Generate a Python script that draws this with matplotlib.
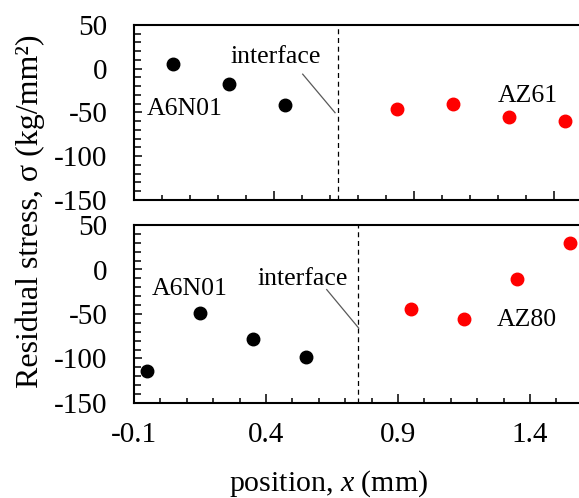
import matplotlib
matplotlib.use("Agg")
import matplotlib.pyplot as plt
from matplotlib.ticker import MultipleLocator, FixedLocator

plt.rcParams['font.family'] = ['Liberation Serif', 'DejaVu Serif']
plt.rcParams['mathtext.fontset'] = 'custom'
plt.rcParams['mathtext.rm'] = 'Liberation Serif'
plt.rcParams['mathtext.it'] = 'Liberation Serif:italic'

# ---- data (top panel: A6N01 / AZ61) ----
top_a6n01_x = [0.04, 0.24, 0.44]
top_a6n01_y = [5.7, -17.9, -41.1]
top_az61_x = [0.84, 1.04, 1.24, 1.44]
top_az61_y = [-46.5, -40.0, -54.8, -59.4]
top_interface = 0.63

# ---- data (bottom panel: A6N01 / AZ80) ----
bot_a6n01_x = [-0.05, 0.15, 0.35, 0.55]
bot_a6n01_y = [-114.4, -48.9, -77.6, -97.9]
bot_az80_x = [0.95, 1.15, 1.35, 1.55]
bot_az80_y = [-44.4, -55.3, -10.5, 29.4]
bot_interface = 0.75

x_ticks = [-0.1, 0.4, 0.9, 1.4]
x_ticklabels = ['-0.1', '0.4', '0.9', '1.4']
y_ticks = [-150, -100, -50, 0, 50]

W, H = 579, 498
fig = plt.figure(figsize=(W / 100, H / 100), dpi=100)

def fx(px):
    return px / W

def fy(py):
    return 1 - py / H

right_px = 610
ax1 = fig.add_axes([fx(134), fy(200), fx(right_px - 134), (200 - 25) / H])
ax2 = fig.add_axes([fx(134), fy(403), fx(right_px - 134), (403 - 225) / H])

def style(ax, xmax, labels):
    ax.set_xlim(-0.1, xmax)
    ax.set_ylim(-150, 50)
    ax.xaxis.set_major_locator(FixedLocator(x_ticks))
    ax.xaxis.set_minor_locator(MultipleLocator(0.1))
    ax.yaxis.set_major_locator(FixedLocator(y_ticks))
    ax.yaxis.set_minor_locator(MultipleLocator(10))
    for s in ax.spines.values():
        s.set_linewidth(1.5)
    ax.tick_params(axis='both', which='both', direction='in', width=1.1,
                   top=False, right=False)
    ax.tick_params(axis='y', which='major', length=5.5, pad=19, labelsize=21)
    ax.tick_params(axis='y', which='minor', length=5)
    ax.tick_params(axis='x', which='major', length=6.5, pad=14, labelsize=21)
    ax.tick_params(axis='x', which='minor', length=3.6)
    ax.set_yticklabels([str(v) for v in y_ticks])
    if labels:
        ax.set_xticklabels(x_ticklabels)
    else:
        ax.set_xticklabels([])

style(ax1, 1.6, False)
style(ax2, -0.1 + (right_px - 134) / 264, True)

ms = 9
ax1.plot(top_a6n01_x, top_a6n01_y, 'o', color='black', ms=ms, clip_on=False)
ax1.plot(top_az61_x, top_az61_y, 'o', color='#ff0000', ms=ms, clip_on=False)
ax2.plot(bot_a6n01_x, bot_a6n01_y, 'o', color='black', ms=ms, clip_on=False)
ax2.plot(bot_az80_x, bot_az80_y, 'o', color='#ff0000', ms=ms, clip_on=False)

ax1.axvline(top_interface, color='black', lw=0.9, ls=(0, (4, 3)))
ax2.axvline(bot_interface, color='black', lw=0.9, ls=(0, (4, 3)))

ax1.plot([0.5025, 0.618], [-6.2, -50.2], color='#595959', lw=0.9)
ax2.plot([0.63, 0.751], [-22.6, -65.8], color='#595959', lw=0.9)

fs = 18.5
ax1.text(0.406, 6.5, 'interface', fontsize=fs, ha='center', va='baseline')
ax1.text(0.082, -53.3, 'A6N01', fontsize=fs, ha='center', va='baseline')
ax1.text(1.307, -38.1, 'AZ61', fontsize=fs, ha='center', va='baseline')
ax2.text(0.540, -16.9, 'interface', fontsize=fs, ha='center', va='baseline')
ax2.text(0.112, -29.0, 'A6N01', fontsize=fs, ha='center', va='baseline')
ax2.text(1.389, -64.0, 'AZ80', fontsize=fs, ha='center', va='baseline')

fig.text(fx(30), fy(211), 'Residual stress, σ (kg/mm²)', rotation=90,
         ha='center', va='center', fontsize=23)
fig.text(fx(329), fy(491), r'position, $x$ (mm)', ha='center', va='baseline',
         fontsize=21.5)

fig.savefig('out.png', dpi=100)
